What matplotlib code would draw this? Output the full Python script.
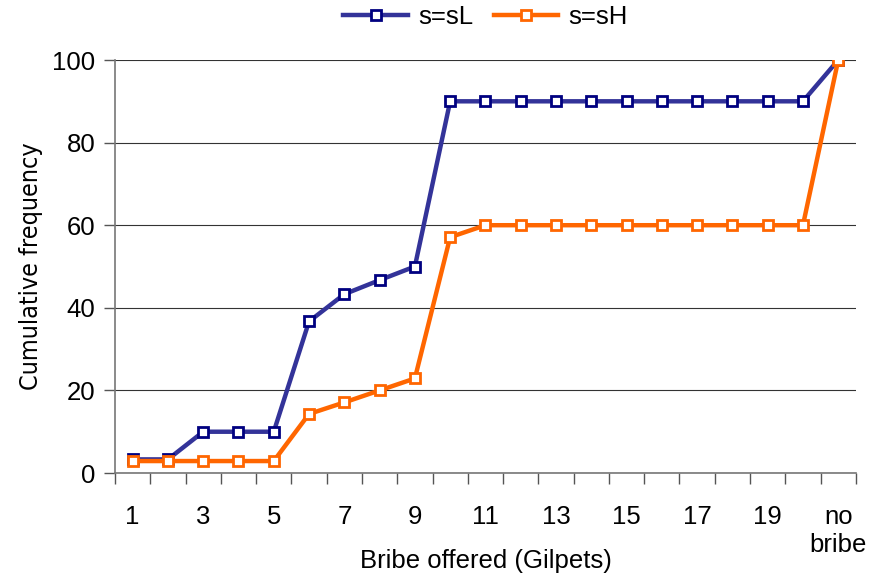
import matplotlib.pyplot as plt
import numpy as np
from matplotlib import font_manager

# Data
categories = [str(i) for i in range(1, 21)] + ['no\nbribe']
s_low = [3.3, 3.3, 10, 10, 10, 36.7, 43.3, 46.7, 50, 90,
         90, 90, 90, 90, 90, 90, 90, 90, 90, 90, 100]
s_high = [2.9, 2.9, 2.9, 2.9, 2.9, 14.3, 17.1, 20, 22.9, 57.1,
          60, 60, 60, 60, 60, 60, 60, 60, 60, 60, 100]
tick_labels = ['1', '3', '5', '7', '9', '11', '13', '15', '17', '19', 'no\nbribe']

plt.rcParams['font.family'] = ['Liberation Sans', 'DejaVu Sans']
names = {f.name for f in font_manager.fontManager.ttflist}
if 'Liberation Sans Narrow' in names:
    ylab_font = dict(family='Liberation Sans Narrow', fontsize=20.5)
else:
    ylab_font = dict(family='DejaVu Sans', fontstretch='condensed', fontsize=18)

fig = plt.figure(figsize=(8.86, 5.77), dpi=100)
ax = fig.add_axes([0.1298, 0.1802, 0.966 - 0.1298, 0.896 - 0.1802])

x = np.arange(1, len(categories) + 1)
ax.plot(x, s_low, color='#333399', lw=3.2, marker='s', ms=7.5,
        mfc='white', mec='#000080', mew=2, label='s=sL', zorder=3)
ax.plot(x, s_high, color='#FF6600', lw=3.2, marker='s', ms=7.5,
        mfc='white', mec='#FF6600', mew=2, label='s=sH', zorder=4)

ax.set_xlim(0.5, len(categories) + 0.5)
ax.set_ylim(0, 100)
ax.set_yticks(np.arange(0, 101, 20))
ax.yaxis.grid(True, color='#333333', lw=0.8)
ax.set_axisbelow(True)

# ticks between categories, labels on odd categories
ax.set_xticks(np.arange(0.5, len(categories) + 1, 1))
ax.set_xticklabels([])
ax.set_xticks(x[::2], minor=True)
ax.set_xticklabels(tick_labels, minor=True, va='top')
ax.tick_params(axis='x', which='minor', length=0, pad=23, labelsize=18.5)
ax.tick_params(axis='x', which='major', length=8, width=1, color='#555555')
ax.tick_params(axis='y', length=8, width=1, color='#555555', labelsize=18.5, pad=6)

for s in ['top', 'right']:
    ax.spines[s].set_visible(False)
ax.spines['left'].set_color('#777777')
ax.spines['bottom'].set_color('#777777')
ax.spines['left'].set_linewidth(1.2)
ax.spines['bottom'].set_linewidth(1.2)

ax.set_ylabel('Cumulative frequency', **ylab_font)
ax.yaxis.set_label_coords(-0.097, 0.5)
ax.set_xlabel('Bribe offered (Gilpets)', fontsize=18.5, va='top')
ax.xaxis.set_label_coords(0.5, -0.183)

ax.legend(loc='center', bbox_to_anchor=(0.5, 1.104), ncols=2, frameon=False,
          fontsize=18.5, handlelength=2.5, columnspacing=0.8, handletextpad=0.4)

plt.savefig('out.png', dpi=100)
